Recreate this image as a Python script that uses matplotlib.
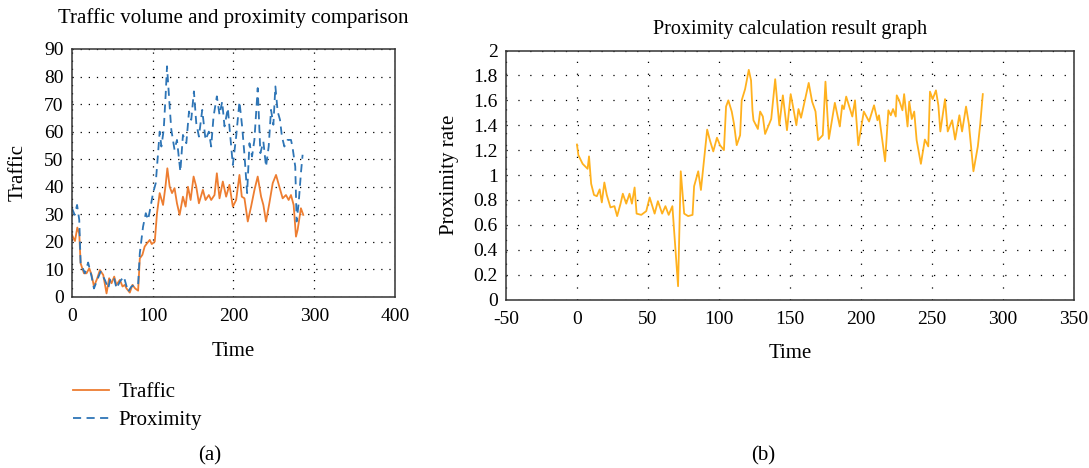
import numpy as np
import matplotlib
matplotlib.use("Agg")
import matplotlib.pyplot as plt

# --- data ---
traffic_t = [0, 3.7, 6.6, 9, 10.7, 14.8, 18, 21.4, 24.3, 27.2, 31.3, 34.6, 38.7, 42.8, 46, 49,
             52.3, 55, 59.3, 62.6, 65.4, 67.5, 71.6, 74.9, 78.2, 81.9, 84, 87.2, 90, 93, 96.3,
             98.8, 102.5, 105.3, 108.6, 112.8, 116, 118.1, 121, 123.9, 127, 130, 133.3, 137.4,
             140.7, 143.6, 146.9, 150.6, 153.9, 157.2, 162.1, 165.4, 169.5, 172.4, 176.5, 179.4,
             182.7, 186.8, 190.9, 195, 199.2, 203.3, 207.4, 210.3, 213.6, 217.7, 221.8, 226, 230,
             234.2, 237, 240.3, 244.4, 248.6, 252.7, 256.8, 260.9, 265, 268.3, 271.2, 274.5,
             277.4, 279.4, 283.5, 286.4]
traffic_v = [22.5, 20.3, 25.2, 23, 12.2, 8.6, 8.6, 10.4, 8, 3.8, 6.8, 9.8, 8, 1.3, 6.8, 5,
             7.4, 4.4, 6.2, 3.8, 4.4, 3.1, 1.6, 4.4, 3.1, 2.3, 14, 15.3, 18.3, 19.5, 20.7,
             19.2, 20.1, 30.4, 37.7, 33.4, 40.7, 46.7, 40, 37.7, 39.5, 34, 29.8, 36.4,
             32.8, 40, 35.2, 43.7, 40, 34, 38.9, 35.2, 37, 35.2, 37, 44.9,
             35.8, 41.9, 36.4, 40.7, 32.8, 35.2, 44.3, 36.4, 35.8, 27.4, 32.8, 38.9, 43.7,
             36.4, 33.4, 27.4, 34, 41.3, 44.3, 40, 35.8, 37, 35.2, 37, 33.4,
             21.9, 24.3, 32.2, 29.8]

prox_t = [0, 3.3, 6.3, 9, 10.7, 16, 20, 24.3, 27.2, 31.3, 35.4, 40.7, 44.9, 47.7, 51.9, 55.2,
          59.3, 64.2, 69.5, 73.6, 77.8, 81.9, 84, 88, 91.4, 94.2, 97, 100.4, 103.7, 106.6,
          108.6, 110.7, 113.6, 116, 117.7, 121, 123, 127, 130, 134.2, 137.4, 141.6, 144.9,
          147.7, 151, 153.9, 157.2, 161.3, 165.4, 169.5, 172.4, 175.3, 179.4, 182.7, 186,
          188.9, 193, 195.9, 199.2, 203.3, 207.4, 210.7, 213.6, 216.9, 219.8, 223, 225.9,
          230, 233.3, 237, 240.3, 243.6, 246.5, 249.4, 251.9, 254.7, 257.6, 260, 263, 267,
          271.2, 273, 276.5, 278.2, 280.7, 283.5, 285.6]
prox_v = [32.2, 29.8, 33.4, 28, 12.2, 8.6, 12.5, 7.4, 3.1, 6.2, 9.2, 6.2, 3.1, 6.8, 7.1, 3.1,
          5.6, 7.4, 1.9, 3.8, 4.4, 4.4, 15.9, 25.5, 30.4, 28, 32.2, 37.7, 41.3, 52.2,
          60, 54.6, 60.7, 73.4, 83.7, 69, 60.7, 53.4, 57, 45.5, 58.8, 55.8, 67.3,
          64.3, 74.6, 63.1, 58.2, 67.9, 57, 60, 54.6, 65.5, 72.8, 66.1, 70.9,
          61.9, 68.5, 58.8, 47.9, 58.2, 70.9, 61.9, 51.6, 37.7, 55.8, 51, 57,
          75.8, 52.2, 56.4, 47.3, 54.6, 67.9, 62.5, 76.4, 67.3, 64.3, 58.2, 54.6, 57,
          57, 54.6, 47.3, 27.4, 34, 44.9, 51.6]

rate_t = [0, 1, 4, 7.5, 8.5, 10, 12, 14, 16, 17.5, 19.3, 21, 23.6, 26.4, 28.3, 30.7, 32.3,
          34.7, 37, 38.7, 40.6, 42, 45.3, 48.8, 51.2, 54.7, 57, 60, 62.3, 64.6, 67.2, 68.9,
          71.2, 73.1, 75.5, 78.3, 81.4, 82.5, 85.4, 87.3, 89, 91.7, 93.6, 96, 98.6, 100.7,
          103.5, 105, 106.6, 109, 110.6, 112.5, 114.9, 116, 118.4, 121, 122.6, 123.6, 124.3,
          127.4, 129, 130.9, 132.5, 136.8, 139.6, 142.5, 145, 147.9, 150.5, 152, 154.5, 156,
          157.8, 163.2, 165.6, 168, 169.8, 173.1, 175, 177.4, 181.6, 185.1, 186.8, 188, 189.6,
          193.9, 195.8, 198.1, 202, 205.7, 209.2, 211.6, 212.7, 215.6, 217, 219.3, 221, 222.6,
          224.5, 225.2, 226.9, 229.2, 230.4, 232.8, 234, 235.8, 237.5, 239.2, 242.2, 245,
          247.4, 248.6, 250.5, 252.8, 254.5, 255.9, 259.2, 261.1, 264.2, 266.3, 269.3, 271.2,
          274, 276, 279.2, 282.3, 284, 285.8]
rate_v = [1.245, 1.16, 1.09, 1.05, 1.15, 0.93, 0.84, 0.83, 0.885, 0.78, 0.94, 0.84, 0.74, 0.75,
          0.67, 0.77, 0.85, 0.77, 0.85, 0.77, 0.90, 0.69, 0.68, 0.71, 0.82, 0.69, 0.79, 0.69,
          0.75, 0.68, 0.75, 0.48, 0.107, 1.03, 0.69, 0.67, 0.68, 0.91, 1.03, 0.88, 1.07, 1.365,
          1.28, 1.19, 1.30, 1.24, 1.20, 1.55, 1.60, 1.51, 1.41, 1.24, 1.32, 1.60, 1.69, 1.845,
          1.76, 1.52, 1.44, 1.37, 1.51, 1.47, 1.33, 1.45, 1.77, 1.40, 1.64, 1.36, 1.65, 1.56,
          1.40, 1.53, 1.46, 1.74, 1.59, 1.51, 1.28, 1.32, 1.75, 1.29, 1.58, 1.39, 1.56, 1.53,
          1.63, 1.47, 1.60, 1.24, 1.51, 1.43, 1.56, 1.44, 1.48, 1.23, 1.11, 1.52, 1.48, 1.53,
          1.47, 1.64, 1.60, 1.52, 1.65, 1.39, 1.59, 1.45, 1.51, 1.28, 1.09, 1.285, 1.23, 1.67,
          1.61, 1.68, 1.56, 1.35, 1.61, 1.35, 1.44, 1.285, 1.48, 1.35, 1.55, 1.41, 1.03, 1.23,
          1.41, 1.65]

left_xticks = [0, 100, 200, 300, 400]
left_yticks = list(range(0, 100, 10))
right_xticks = list(range(-50, 400, 50))
right_yticks = [0, 0.2, 0.4, 0.6, 0.8, 1, 1.2, 1.4, 1.6, 1.8, 2]
right_yticklabels = ['0', '0.2', '0.4', '0.6', '0.8', '1', '1.2', '1.4', '1.6', '1.8', '2']

plt.rcParams['font.family'] = ['Liberation Serif', 'DejaVu Serif']
plt.rcParams['font.size'] = 13
plt.rcParams['axes.unicode_minus'] = False

fig = plt.figure(figsize=(10.89, 4.68), dpi=100)
ax1 = fig.add_axes([0.0661, 0.3654, 0.2966, 0.530])
ax2 = fig.add_axes([0.4646, 0.3600, 0.5216, 0.532])


def style_axes(ax, dots):
    for s in ax.spines.values():
        s.set_color('#333333')
        s.set_linewidth(1.1)
    ax.tick_params(length=0, labelsize=14)
    ax.tick_params(axis='x', pad=8)
    ax.tick_params(axis='y', pad=6)
    ax.grid(True, color='black', linewidth=0.9, linestyle=(0, dots))
    ax.set_axisbelow(True)


# (a) traffic vs proximity
ax1.plot(traffic_t, traffic_v, color='#ED7D31', lw=1.3, label='Traffic')
ax1.plot(prox_t, prox_v, color='#2E75B6', lw=1.3, ls=(0, (4.5, 3)), label='Proximity')
ax1.set_xlim(0, 400)
ax1.set_ylim(0, 90)
ax1.set_xticks(left_xticks)
ax1.set_yticks(left_yticks)
style_axes(ax1, (1, 5.5))
ax1.set_title('Traffic volume and proximity comparison', fontsize=15, pad=19)
ax1.set_xlabel('Time', fontsize=15, labelpad=12)
ax1.set_ylabel('Traffic', fontsize=15, labelpad=12)
ax1.legend(loc='upper left', bbox_to_anchor=(-0.055, -0.27), frameon=False,
           fontsize=15, handlelength=1.75, handletextpad=0.45, labelspacing=0.4)
fig.text(0.193, 0.015, '(a)', fontsize=15, ha='center')

# (b) proximity rate
ax2.plot(rate_t, rate_v, color='#FFB11E', lw=1.3)
ax2.set_xlim(-50, 350)
ax2.set_ylim(0, 2)
ax2.set_xticks(right_xticks)
ax2.set_yticks(right_yticks)
ax2.set_yticklabels(right_yticklabels)
style_axes(ax2, (1, 8.5))
ax2.set_title('Proximity calculation result graph', fontsize=14.5, pad=12)
ax2.set_xlabel('Time', fontsize=15, labelpad=12)
ax2.set_ylabel('Proximity rate', fontsize=15, labelpad=10)
fig.text(0.701, 0.015, '(b)', fontsize=15, ha='center')

fig.savefig('out.png', dpi=100)
